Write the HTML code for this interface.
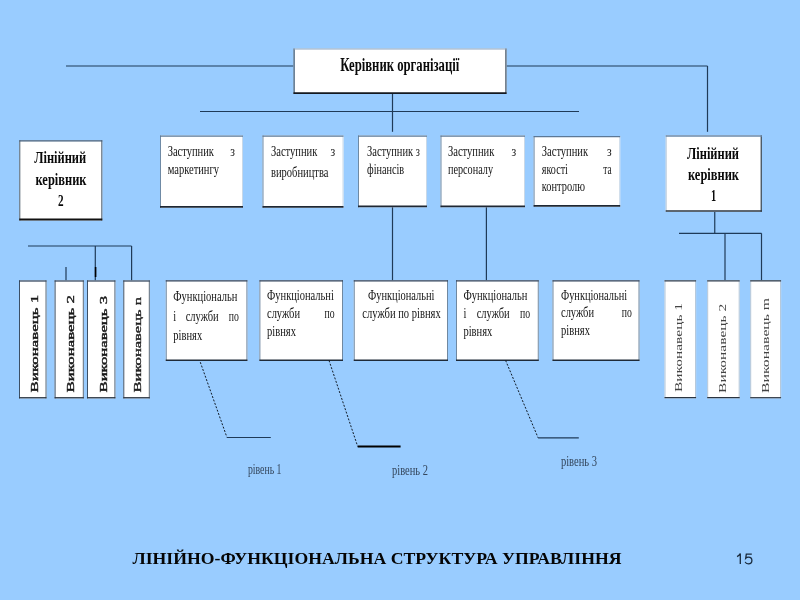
<!DOCTYPE html><html><head><meta charset="utf-8"><title>Лінійно-функціональна структура управління</title><style>html,body{margin:0;padding:0;background:#99CCFF;overflow:hidden}svg{display:block;filter:blur(0.35px)}</style></head><body>
<svg width="800" height="600" viewBox="0 0 800 600">
<rect width="800" height="600" fill="#99CCFF"/>
<line x1="66" y1="66" x2="293.5" y2="66" stroke="#1f3a58" stroke-width="1.2"/>
<line x1="506.5" y1="66" x2="707.5" y2="66" stroke="#1f3a58" stroke-width="1.2"/>
<line x1="707.5" y1="66" x2="707.5" y2="131.8" stroke="#1f3a58" stroke-width="1.2"/>
<line x1="392.5" y1="93" x2="392.5" y2="131.8" stroke="#1f3a58" stroke-width="1.2"/>
<line x1="200" y1="111.5" x2="579" y2="111.5" stroke="#1f3a58" stroke-width="1.2"/>
<line x1="392.5" y1="207" x2="392.5" y2="280.5" stroke="#1f3a58" stroke-width="1.2"/>
<line x1="486.4" y1="207" x2="486.4" y2="280.5" stroke="#1f3a58" stroke-width="1.2"/>
<line x1="714.75" y1="211.7" x2="714.75" y2="233.3" stroke="#1f3a58" stroke-width="1.2"/>
<line x1="679" y1="233.3" x2="761.5" y2="233.3" stroke="#1f3a58" stroke-width="1.2"/>
<line x1="725" y1="233.3" x2="725" y2="280.5" stroke="#1f3a58" stroke-width="1.2"/>
<line x1="761.5" y1="233.3" x2="761.5" y2="280.5" stroke="#1f3a58" stroke-width="1.2"/>
<line x1="28" y1="246" x2="131.6" y2="246" stroke="#1f3a58" stroke-width="1.2"/>
<line x1="95.3" y1="246" x2="95.3" y2="280.4" stroke="#1f3a58" stroke-width="1.2"/>
<line x1="131.6" y1="246" x2="131.6" y2="280.4" stroke="#1f3a58" stroke-width="1.2"/>
<line x1="66" y1="267" x2="66" y2="280.4" stroke="#1f3a58" stroke-width="1.2"/>
<rect x="293.5" y="48.5" width="213.00" height="45.50" fill="#fff"/>
<line x1="294.10" y1="48.5" x2="294.10" y2="94" stroke="#2f4d6b" stroke-width="1.2"/>
<line x1="505.90" y1="48.5" x2="505.90" y2="94" stroke="#3c4d5e" stroke-width="1.2"/>
<line x1="293.5" y1="49.00" x2="506.5" y2="49.00" stroke="#8fa6bf" stroke-width="1.0"/>
<line x1="293.5" y1="93.10" x2="506.5" y2="93.10" stroke="#15191f" stroke-width="1.8"/>
<rect x="19.3" y="140.3" width="83.00" height="80.20" fill="#fff"/>
<line x1="19.80" y1="140.3" x2="19.80" y2="220.5" stroke="#4a5a6a" stroke-width="1.0"/>
<line x1="101.80" y1="140.3" x2="101.80" y2="220.5" stroke="#4a5a6a" stroke-width="1.0"/>
<line x1="19.3" y1="140.90" x2="102.3" y2="140.90" stroke="#3d5a78" stroke-width="1.2"/>
<line x1="19.3" y1="219.50" x2="102.3" y2="219.50" stroke="#111111" stroke-width="2.0"/>
<rect x="160" y="135.5" width="83.00" height="72.30" fill="#fff"/>
<line x1="160.50" y1="135.5" x2="160.50" y2="207.8" stroke="#6f8aa5" stroke-width="1.0"/>
<line x1="242.50" y1="135.5" x2="242.50" y2="207.8" stroke="#c8d8e8" stroke-width="1.0"/>
<line x1="160" y1="136.15" x2="243" y2="136.15" stroke="#5c7896" stroke-width="1.3"/>
<line x1="160" y1="206.90" x2="243" y2="206.90" stroke="#1e2733" stroke-width="1.8"/>
<rect x="262.5" y="135.5" width="81.00" height="72.30" fill="#fff"/>
<line x1="263.00" y1="135.5" x2="263.00" y2="207.8" stroke="#6f8aa5" stroke-width="1.0"/>
<line x1="343.00" y1="135.5" x2="343.00" y2="207.8" stroke="#c8d8e8" stroke-width="1.0"/>
<line x1="262.5" y1="136.15" x2="343.5" y2="136.15" stroke="#5c7896" stroke-width="1.3"/>
<line x1="262.5" y1="206.90" x2="343.5" y2="206.90" stroke="#1e2733" stroke-width="1.8"/>
<rect x="358" y="135.5" width="69.00" height="71.80" fill="#fff"/>
<line x1="358.50" y1="135.5" x2="358.50" y2="207.3" stroke="#6f8aa5" stroke-width="1.0"/>
<line x1="426.50" y1="135.5" x2="426.50" y2="207.3" stroke="#c8d8e8" stroke-width="1.0"/>
<line x1="358" y1="136.15" x2="427" y2="136.15" stroke="#5c7896" stroke-width="1.3"/>
<line x1="358" y1="206.40" x2="427" y2="206.40" stroke="#1e2733" stroke-width="1.8"/>
<rect x="440.5" y="135.5" width="84.50" height="71.80" fill="#fff"/>
<line x1="441.00" y1="135.5" x2="441.00" y2="207.3" stroke="#6f8aa5" stroke-width="1.0"/>
<line x1="524.50" y1="135.5" x2="524.50" y2="207.3" stroke="#c8d8e8" stroke-width="1.0"/>
<line x1="440.5" y1="136.15" x2="525" y2="136.15" stroke="#5c7896" stroke-width="1.3"/>
<line x1="440.5" y1="206.40" x2="525" y2="206.40" stroke="#1e2733" stroke-width="1.8"/>
<rect x="533.6" y="136" width="86.60" height="70.80" fill="#fff"/>
<line x1="534.10" y1="136" x2="534.10" y2="206.8" stroke="#6f8aa5" stroke-width="1.0"/>
<line x1="619.70" y1="136" x2="619.70" y2="206.8" stroke="#c8d8e8" stroke-width="1.0"/>
<line x1="533.6" y1="136.65" x2="620.2" y2="136.65" stroke="#5c7896" stroke-width="1.3"/>
<line x1="533.6" y1="205.90" x2="620.2" y2="205.90" stroke="#1e2733" stroke-width="1.8"/>
<rect x="665.7" y="135.3" width="96.20" height="76.50" fill="#fff"/>
<line x1="666.20" y1="135.3" x2="666.20" y2="211.8" stroke="#b8c8d8" stroke-width="1.0"/>
<line x1="761.25" y1="135.3" x2="761.25" y2="211.8" stroke="#3a4a5a" stroke-width="1.3"/>
<line x1="665.7" y1="136.00" x2="761.9" y2="136.00" stroke="#6a88a8" stroke-width="1.4"/>
<line x1="665.7" y1="211.05" x2="761.9" y2="211.05" stroke="#2a3440" stroke-width="1.5"/>
<rect x="19.0" y="280.4" width="27.50" height="118.00" fill="#fff"/>
<line x1="19.50" y1="280.4" x2="19.50" y2="398.4" stroke="#3c4f65" stroke-width="1.0"/>
<line x1="46.00" y1="280.4" x2="46.00" y2="398.4" stroke="#5a6a7a" stroke-width="1.0"/>
<line x1="19.0" y1="281.00" x2="46.5" y2="281.00" stroke="#2c3f55" stroke-width="1.2"/>
<line x1="19.0" y1="397.75" x2="46.5" y2="397.75" stroke="#2a3440" stroke-width="1.3"/>
<rect x="54.6" y="280.4" width="29.20" height="118.00" fill="#fff"/>
<line x1="55.10" y1="280.4" x2="55.10" y2="398.4" stroke="#3c4f65" stroke-width="1.0"/>
<line x1="83.30" y1="280.4" x2="83.30" y2="398.4" stroke="#5a6a7a" stroke-width="1.0"/>
<line x1="54.6" y1="281.00" x2="83.8" y2="281.00" stroke="#2c3f55" stroke-width="1.2"/>
<line x1="54.6" y1="397.75" x2="83.8" y2="397.75" stroke="#2a3440" stroke-width="1.3"/>
<rect x="87.0" y="280.4" width="28.40" height="118.00" fill="#fff"/>
<line x1="87.50" y1="280.4" x2="87.50" y2="398.4" stroke="#3c4f65" stroke-width="1.0"/>
<line x1="114.90" y1="280.4" x2="114.90" y2="398.4" stroke="#5a6a7a" stroke-width="1.0"/>
<line x1="87.0" y1="281.00" x2="115.4" y2="281.00" stroke="#2c3f55" stroke-width="1.2"/>
<line x1="87.0" y1="397.75" x2="115.4" y2="397.75" stroke="#2a3440" stroke-width="1.3"/>
<rect x="123.3" y="280.4" width="26.50" height="118.00" fill="#fff"/>
<line x1="123.80" y1="280.4" x2="123.80" y2="398.4" stroke="#3c4f65" stroke-width="1.0"/>
<line x1="149.30" y1="280.4" x2="149.30" y2="398.4" stroke="#5a6a7a" stroke-width="1.0"/>
<line x1="123.3" y1="281.00" x2="149.8" y2="281.00" stroke="#2c3f55" stroke-width="1.2"/>
<line x1="123.3" y1="397.75" x2="149.8" y2="397.75" stroke="#2a3440" stroke-width="1.3"/>
<rect x="165.75" y="280.3" width="81.65" height="80.70" fill="#fff"/>
<line x1="166.25" y1="280.3" x2="166.25" y2="361" stroke="#7088a0" stroke-width="1.0"/>
<line x1="246.90" y1="280.3" x2="246.90" y2="361" stroke="#7088a0" stroke-width="1.0"/>
<line x1="165.75" y1="280.90" x2="247.4" y2="280.90" stroke="#2f4058" stroke-width="1.2"/>
<line x1="165.75" y1="360.20" x2="247.4" y2="360.20" stroke="#1e2a38" stroke-width="1.6"/>
<rect x="259.4" y="280.3" width="83.60" height="80.70" fill="#fff"/>
<line x1="259.90" y1="280.3" x2="259.90" y2="361" stroke="#7088a0" stroke-width="1.0"/>
<line x1="342.50" y1="280.3" x2="342.50" y2="361" stroke="#7088a0" stroke-width="1.0"/>
<line x1="259.4" y1="280.90" x2="343" y2="280.90" stroke="#2f4058" stroke-width="1.2"/>
<line x1="259.4" y1="360.20" x2="343" y2="360.20" stroke="#1e2a38" stroke-width="1.6"/>
<rect x="353.75" y="280.3" width="94.25" height="80.70" fill="#fff"/>
<line x1="354.25" y1="280.3" x2="354.25" y2="361" stroke="#7088a0" stroke-width="1.0"/>
<line x1="447.50" y1="280.3" x2="447.50" y2="361" stroke="#7088a0" stroke-width="1.0"/>
<line x1="353.75" y1="280.90" x2="448" y2="280.90" stroke="#2f4058" stroke-width="1.2"/>
<line x1="353.75" y1="360.20" x2="448" y2="360.20" stroke="#1e2a38" stroke-width="1.6"/>
<rect x="456" y="280.3" width="82.75" height="80.70" fill="#fff"/>
<line x1="456.50" y1="280.3" x2="456.50" y2="361" stroke="#7088a0" stroke-width="1.0"/>
<line x1="538.25" y1="280.3" x2="538.25" y2="361" stroke="#7088a0" stroke-width="1.0"/>
<line x1="456" y1="280.90" x2="538.75" y2="280.90" stroke="#2f4058" stroke-width="1.2"/>
<line x1="456" y1="360.20" x2="538.75" y2="360.20" stroke="#1e2a38" stroke-width="1.6"/>
<rect x="552.5" y="280.3" width="87.00" height="80.70" fill="#fff"/>
<line x1="553.00" y1="280.3" x2="553.00" y2="361" stroke="#7088a0" stroke-width="1.0"/>
<line x1="639.00" y1="280.3" x2="639.00" y2="361" stroke="#7088a0" stroke-width="1.0"/>
<line x1="552.5" y1="280.90" x2="639.5" y2="280.90" stroke="#2f4058" stroke-width="1.2"/>
<line x1="552.5" y1="360.20" x2="639.5" y2="360.20" stroke="#1e2a38" stroke-width="1.6"/>
<rect x="664.5" y="280.2" width="31.60" height="118.10" fill="#fff"/>
<line x1="665.00" y1="280.2" x2="665.00" y2="398.3" stroke="#b0c4d8" stroke-width="1.0"/>
<line x1="695.60" y1="280.2" x2="695.60" y2="398.3" stroke="#b0c4d8" stroke-width="1.0"/>
<line x1="664.5" y1="280.85" x2="696.1" y2="280.85" stroke="#2c3b4c" stroke-width="1.3"/>
<line x1="664.5" y1="397.70" x2="696.1" y2="397.70" stroke="#2a3440" stroke-width="1.2"/>
<rect x="707.2" y="280.2" width="32.50" height="118.10" fill="#fff"/>
<line x1="707.70" y1="280.2" x2="707.70" y2="398.3" stroke="#b0c4d8" stroke-width="1.0"/>
<line x1="739.20" y1="280.2" x2="739.20" y2="398.3" stroke="#b0c4d8" stroke-width="1.0"/>
<line x1="707.2" y1="280.85" x2="739.7" y2="280.85" stroke="#2c3b4c" stroke-width="1.3"/>
<line x1="707.2" y1="397.70" x2="739.7" y2="397.70" stroke="#2a3440" stroke-width="1.2"/>
<rect x="750.2" y="280.2" width="30.90" height="118.10" fill="#fff"/>
<line x1="750.70" y1="280.2" x2="750.70" y2="398.3" stroke="#b0c4d8" stroke-width="1.0"/>
<line x1="780.60" y1="280.2" x2="780.60" y2="398.3" stroke="#b0c4d8" stroke-width="1.0"/>
<line x1="750.2" y1="280.85" x2="781.1" y2="280.85" stroke="#2c3b4c" stroke-width="1.3"/>
<line x1="750.2" y1="397.70" x2="781.1" y2="397.70" stroke="#2a3440" stroke-width="1.2"/>
<line x1="95.6" y1="267" x2="95.6" y2="277" stroke="#000" stroke-width="1.6"/>
<line x1="200.3" y1="362.2" x2="227" y2="437.5" stroke="#101a26" stroke-width="1" stroke-dasharray="2,1.6"/>
<line x1="227" y1="437.5" x2="270.8" y2="437.5" stroke="#1f3a58" stroke-width="1.2"/>
<line x1="329" y1="360.4" x2="357.7" y2="446.5" stroke="#101a26" stroke-width="1" stroke-dasharray="2,1.6"/>
<line x1="357.7" y1="446.5" x2="400.6" y2="446.5" stroke="#000" stroke-width="2.2"/>
<line x1="505.6" y1="360.4" x2="538.1" y2="437.8" stroke="#101a26" stroke-width="1" stroke-dasharray="2,1.6"/>
<line x1="538.1" y1="437.8" x2="578.8" y2="437.8" stroke="#1f3a58" stroke-width="1.2"/>
<text x="340.3" y="70.6" font-family="'Liberation Serif', serif" font-size="18.7" font-weight="bold" fill="#0a0a0a" text-anchor="start" textLength="119" lengthAdjust="spacingAndGlyphs">Керівник організації</text>
<text x="60.2" y="163.1" font-family="'Liberation Serif', serif" font-size="16.5" font-weight="bold" fill="#0a0a0a" text-anchor="middle" textLength="52" lengthAdjust="spacingAndGlyphs">Лінійний</text>
<text x="61.0" y="184.7" font-family="'Liberation Serif', serif" font-size="16.5" font-weight="bold" fill="#0a0a0a" text-anchor="middle" textLength="51" lengthAdjust="spacingAndGlyphs">керівник</text>
<text x="60.9" y="206.25" font-family="'Liberation Serif', serif" font-size="16.5" font-weight="bold" fill="#0a0a0a" text-anchor="middle" textLength="5.6" lengthAdjust="spacingAndGlyphs">2</text>
<text x="713.0" y="158.7" font-family="'Liberation Serif', serif" font-size="16.5" font-weight="bold" fill="#0a0a0a" text-anchor="middle" textLength="52" lengthAdjust="spacingAndGlyphs">Лінійний</text>
<text x="713.5" y="180.2" font-family="'Liberation Serif', serif" font-size="16.5" font-weight="bold" fill="#0a0a0a" text-anchor="middle" textLength="51" lengthAdjust="spacingAndGlyphs">керівник</text>
<text x="713.7" y="200.6" font-family="'Liberation Serif', serif" font-size="16.5" font-weight="bold" fill="#0a0a0a" text-anchor="middle" textLength="5.2" lengthAdjust="spacingAndGlyphs">1</text>
<text x="167.65" y="155.9" font-family="'Liberation Serif', serif" font-size="15" font-weight="normal" fill="#141414" text-anchor="start" textLength="46.3" lengthAdjust="spacingAndGlyphs">Заступник</text>
<text x="235" y="155.9" font-family="'Liberation Serif', serif" font-size="15" font-weight="normal" fill="#141414" text-anchor="end" textLength="4.7" lengthAdjust="spacingAndGlyphs">з</text>
<text x="167.65" y="173.8" font-family="'Liberation Serif', serif" font-size="15" font-weight="normal" fill="#141414" text-anchor="start" textLength="51.4" lengthAdjust="spacingAndGlyphs">маркетингу</text>
<text x="271" y="156" font-family="'Liberation Serif', serif" font-size="15" font-weight="normal" fill="#141414" text-anchor="start" textLength="46.3" lengthAdjust="spacingAndGlyphs">Заступник</text>
<text x="335.3" y="156" font-family="'Liberation Serif', serif" font-size="15" font-weight="normal" fill="#141414" text-anchor="end" textLength="4.7" lengthAdjust="spacingAndGlyphs">з</text>
<text x="271" y="177" font-family="'Liberation Serif', serif" font-size="15" font-weight="normal" fill="#141414" text-anchor="start" textLength="57.4" lengthAdjust="spacingAndGlyphs">виробництва</text>
<text x="448" y="156" font-family="'Liberation Serif', serif" font-size="15" font-weight="normal" fill="#141414" text-anchor="start" textLength="46.3" lengthAdjust="spacingAndGlyphs">Заступник</text>
<text x="516.3" y="156" font-family="'Liberation Serif', serif" font-size="15" font-weight="normal" fill="#141414" text-anchor="end" textLength="4.7" lengthAdjust="spacingAndGlyphs">з</text>
<text x="448" y="174" font-family="'Liberation Serif', serif" font-size="15" font-weight="normal" fill="#141414" text-anchor="start" textLength="45" lengthAdjust="spacingAndGlyphs">персоналу</text>
<text x="367" y="156" font-family="'Liberation Serif', serif" font-size="15" font-weight="normal" fill="#141414" text-anchor="start" textLength="52.8" lengthAdjust="spacingAndGlyphs">Заступник з</text>
<text x="367" y="174" font-family="'Liberation Serif', serif" font-size="15" font-weight="normal" fill="#141414" text-anchor="start" textLength="37.2" lengthAdjust="spacingAndGlyphs">фінансів</text>
<text x="541.8" y="156" font-family="'Liberation Serif', serif" font-size="15" font-weight="normal" fill="#141414" text-anchor="start" textLength="46.3" lengthAdjust="spacingAndGlyphs">Заступник</text>
<text x="611.7" y="156" font-family="'Liberation Serif', serif" font-size="15" font-weight="normal" fill="#141414" text-anchor="end" textLength="4.7" lengthAdjust="spacingAndGlyphs">з</text>
<text x="541.8" y="174" font-family="'Liberation Serif', serif" font-size="15" font-weight="normal" fill="#141414" text-anchor="start" textLength="26.1" lengthAdjust="spacingAndGlyphs">якості</text>
<text x="611.7" y="174" font-family="'Liberation Serif', serif" font-size="15" font-weight="normal" fill="#141414" text-anchor="end" textLength="8.4" lengthAdjust="spacingAndGlyphs">та</text>
<text x="541.8" y="190.9" font-family="'Liberation Serif', serif" font-size="15" font-weight="normal" fill="#141414" text-anchor="start" textLength="43.2" lengthAdjust="spacingAndGlyphs">контролю</text>
<text x="173.3" y="301.1" font-family="'Liberation Serif', serif" font-size="15" font-weight="normal" fill="#141414" text-anchor="start" textLength="64" lengthAdjust="spacingAndGlyphs">Функціональн</text>
<text x="173.3" y="320.8" font-family="'Liberation Serif', serif" font-size="15" font-weight="normal" fill="#141414" text-anchor="start" textLength="2.9" lengthAdjust="spacingAndGlyphs">і</text>
<text x="185.7" y="320.8" font-family="'Liberation Serif', serif" font-size="15" font-weight="normal" fill="#141414" text-anchor="start" textLength="33" lengthAdjust="spacingAndGlyphs">служби</text>
<text x="238.9" y="320.8" font-family="'Liberation Serif', serif" font-size="15" font-weight="normal" fill="#141414" text-anchor="end" textLength="10.1" lengthAdjust="spacingAndGlyphs">по</text>
<text x="173.3" y="340.4" font-family="'Liberation Serif', serif" font-size="15" font-weight="normal" fill="#141414" text-anchor="start" textLength="28.9" lengthAdjust="spacingAndGlyphs">рівнях</text>
<text x="267" y="299.9" font-family="'Liberation Serif', serif" font-size="15" font-weight="normal" fill="#141414" text-anchor="start" textLength="66.9" lengthAdjust="spacingAndGlyphs">Функціональні</text>
<text x="267" y="317.6" font-family="'Liberation Serif', serif" font-size="15" font-weight="normal" fill="#141414" text-anchor="start" textLength="33" lengthAdjust="spacingAndGlyphs">служби</text>
<text x="334.7" y="317.6" font-family="'Liberation Serif', serif" font-size="15" font-weight="normal" fill="#141414" text-anchor="end" textLength="10.1" lengthAdjust="spacingAndGlyphs">по</text>
<text x="267" y="335.7" font-family="'Liberation Serif', serif" font-size="15" font-weight="normal" fill="#141414" text-anchor="start" textLength="28.9" lengthAdjust="spacingAndGlyphs">рівнях</text>
<text x="368" y="299.8" font-family="'Liberation Serif', serif" font-size="15" font-weight="normal" fill="#141414" text-anchor="start" textLength="66.5" lengthAdjust="spacingAndGlyphs">Функціональні</text>
<text x="362.3" y="318.2" font-family="'Liberation Serif', serif" font-size="15" font-weight="normal" fill="#141414" text-anchor="start" textLength="78.4" lengthAdjust="spacingAndGlyphs">служби по рівнях</text>
<text x="463.4" y="300" font-family="'Liberation Serif', serif" font-size="15" font-weight="normal" fill="#141414" text-anchor="start" textLength="64" lengthAdjust="spacingAndGlyphs">Функціональн</text>
<text x="463.4" y="317.6" font-family="'Liberation Serif', serif" font-size="15" font-weight="normal" fill="#141414" text-anchor="start" textLength="2.9" lengthAdjust="spacingAndGlyphs">і</text>
<text x="476.7" y="317.6" font-family="'Liberation Serif', serif" font-size="15" font-weight="normal" fill="#141414" text-anchor="start" textLength="33" lengthAdjust="spacingAndGlyphs">служби</text>
<text x="530.2" y="317.6" font-family="'Liberation Serif', serif" font-size="15" font-weight="normal" fill="#141414" text-anchor="end" textLength="10.1" lengthAdjust="spacingAndGlyphs">по</text>
<text x="463.4" y="335.7" font-family="'Liberation Serif', serif" font-size="15" font-weight="normal" fill="#141414" text-anchor="start" textLength="28.9" lengthAdjust="spacingAndGlyphs">рівнях</text>
<text x="561" y="299.8" font-family="'Liberation Serif', serif" font-size="15" font-weight="normal" fill="#141414" text-anchor="start" textLength="66.1" lengthAdjust="spacingAndGlyphs">Функціональні</text>
<text x="561" y="317.4" font-family="'Liberation Serif', serif" font-size="15" font-weight="normal" fill="#141414" text-anchor="start" textLength="33" lengthAdjust="spacingAndGlyphs">служби</text>
<text x="631.9" y="317.4" font-family="'Liberation Serif', serif" font-size="15" font-weight="normal" fill="#141414" text-anchor="end" textLength="10.1" lengthAdjust="spacingAndGlyphs">по</text>
<text x="561" y="335.4" font-family="'Liberation Serif', serif" font-size="15" font-weight="normal" fill="#141414" text-anchor="start" textLength="28.9" lengthAdjust="spacingAndGlyphs">рівнях</text>
<text x="247.9" y="474.1" font-family="'Liberation Serif', serif" font-size="15" font-weight="normal" fill="#34465c" text-anchor="start" textLength="33.6" lengthAdjust="spacingAndGlyphs">рівень 1</text>
<text x="392.0" y="474.6" font-family="'Liberation Serif', serif" font-size="15" font-weight="normal" fill="#34465c" text-anchor="start" textLength="36.0" lengthAdjust="spacingAndGlyphs">рівень 2</text>
<text x="560.9" y="466.4" font-family="'Liberation Serif', serif" font-size="15" font-weight="normal" fill="#34465c" text-anchor="start" textLength="36.2" lengthAdjust="spacingAndGlyphs">рівень 3</text>
<text x="0" y="0" transform="translate(37.5 392.4) scale(0.75 1) rotate(-90)" font-family="'Liberation Serif', serif" font-size="15" font-weight="normal" fill="#1a1a1a" stroke="#1a1a1a" stroke-width="0.55" textLength="97.5" lengthAdjust="spacingAndGlyphs">Виконавець 1</text>
<text x="0" y="0" transform="translate(74.4 392.5) scale(0.75 1) rotate(-90)" font-family="'Liberation Serif', serif" font-size="15" font-weight="normal" fill="#1a1a1a" stroke="#1a1a1a" stroke-width="0.55" textLength="97.5" lengthAdjust="spacingAndGlyphs">Виконавець 2</text>
<text x="0" y="0" transform="translate(106.9 392.5) scale(0.75 1) rotate(-90)" font-family="'Liberation Serif', serif" font-size="15" font-weight="normal" fill="#1a1a1a" stroke="#1a1a1a" stroke-width="0.55" textLength="96.5" lengthAdjust="spacingAndGlyphs">Виконавець 3</text>
<text x="0" y="0" transform="translate(141.2 392.5) scale(0.75 1) rotate(-90)" font-family="'Liberation Serif', serif" font-size="15" font-weight="normal" fill="#222" stroke="#222" stroke-width="0.45" textLength="95.5" lengthAdjust="spacingAndGlyphs">Виконавець n</text>
<text x="0" y="0" transform="translate(682.2 392.0) scale(0.75 1) rotate(-90)" font-family="'Liberation Serif', serif" font-size="15" font-weight="normal" fill="#444" textLength="89" lengthAdjust="spacingAndGlyphs">Виконавець 1</text>
<text x="0" y="0" transform="translate(725.6 392.9) scale(0.75 1) rotate(-90)" font-family="'Liberation Serif', serif" font-size="15" font-weight="normal" fill="#444" textLength="89" lengthAdjust="spacingAndGlyphs">Виконавець 2</text>
<text x="0" y="0" transform="translate(769.1 392.9) scale(0.75 1) rotate(-90)" font-family="'Liberation Serif', serif" font-size="15" font-weight="normal" fill="#444" textLength="95" lengthAdjust="spacingAndGlyphs">Виконавець m</text>
<text x="132.5" y="564" font-family="'Liberation Serif', serif" font-size="17.75" font-weight="bold" fill="#050505" textLength="489" lengthAdjust="spacingAndGlyphs">ЛІНІЙНО-ФУНКЦІОНАЛЬНА СТРУКТУРА УПРАВЛІННЯ</text>
<g fill="none" stroke="#1a2a3c" stroke-width="1.3" stroke-linecap="butt">
<path d="M737.1,556.6 C738.4,555.9 739.6,554.9 740.3,553.6 V563.9"/>
<path d="M751.8,554.2 H746.3 L745.7,558.3 C746.4,557.6 747.3,557.2 748.4,557.2 C750.5,557.2 751.9,558.7 751.9,560.6 C751.9,562.5 750.4,563.9 748.4,563.9 C746.8,563.9 745.6,563.1 745.2,561.9"/>
</g>
</svg></body></html>
